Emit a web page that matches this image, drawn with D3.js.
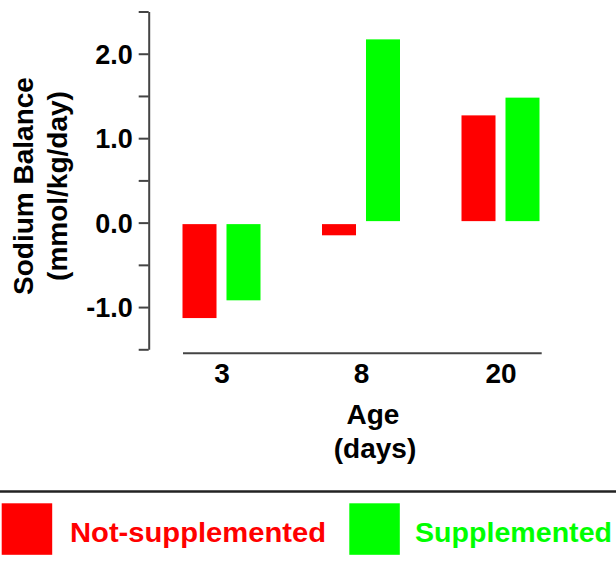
<!DOCTYPE html>
<html>
<head>
<meta charset="utf-8">
<script src="https://cdn.jsdelivr.net/npm/d3@7"></script>
<style>
  html, body { margin: 0; padding: 0; background: #fff; }
  svg { display: block; }
  text { font-family: "Liberation Sans", Arial, Helvetica, sans-serif; font-weight: bold; }
</style>
</head>
<body>
<svg id="chart" width="616" height="565"></svg>
<script>
// ---- data ----
const ages = ["3", "8", "20"];
const seriesNames = ["Not-supplemented", "Supplemented"];
const notSupplemented = [-1.13, -0.15, 1.27];
const supplemented = [-0.92, 2.17, 1.48];
const seriesColors = ["#ff0000", "#00ff00"];
const yTickValues = [-1.5, -1.0, -0.5, 0.0, 0.5, 1.0, 1.5, 2.0, 2.5];
const yTickLabels = [-1.0, 0.0, 1.0, 2.0];

const svg = d3.select("#chart");
const axisColor = "#444";

const y = d3.scaleLinear().domain([-1.5, 2.5]).range([349.3, 11.5]);
const x = d3.scalePoint().domain(ages).range([221.5, 500.5]);
const xs = d3.scaleBand().domain(seriesNames).range([-39, 39]).paddingInner(0.227);

const rows = ages.map((a, i) => ({ age: a, values: [notSupplemented[i], supplemented[i]] }));

// bars
const g = svg.append("g");
rows.forEach(r => {
  r.values.forEach((v, j) => {
    const x0 = x(r.age) + xs(seriesNames[j]);
    const y0 = v >= 0 ? y(v) : y(0) + 1.5;
    const y1 = v >= 0 ? y(0) - 1.5 : y(v);
    g.append("rect")
      .attr("x", x0)
      .attr("y", y0)
      .attr("width", xs.bandwidth())
      .attr("height", Math.max(0, y1 - y0))
      .attr("fill", seriesColors[j]);
  });
});

// y axis
const fmt = d3.format(".1f");
const yAxis = d3.axisLeft(y)
  .tickValues(yTickValues)
  .tickSize(10)
  .tickSizeOuter(0)
  .tickFormat(d => yTickLabels.some(t => Math.abs(t - d) < 1e-9) ? fmt(d).replace("\u2212", "-") : "");
const ya = svg.append("g").attr("transform", "translate(148.7,0)").call(yAxis);
ya.select(".domain").attr("stroke", axisColor).attr("stroke-width", 2);
ya.selectAll(".tick line").attr("stroke", axisColor).attr("stroke-width", 2);
ya.selectAll(".tick text")
  .attr("fill", "#000")
  .attr("font-size", 27)
  .attr("x", -16)
  .attr("dy", "0.36em");

// x axis
const xAxis = d3.axisBottom(x).tickSize(0).tickSizeOuter(0);
const xa = svg.append("g").attr("transform", "translate(0,353.3)").call(xAxis);
xa.select(".domain").remove();
xa.append("line")
  .attr("x1", 183).attr("x2", 541.7)
  .attr("y1", 0).attr("y2", 0)
  .attr("stroke", axisColor).attr("stroke-width", 2);
xa.selectAll(".tick text")
  .attr("fill", "#000")
  .attr("font-size", 28)
  .attr("y", 0)
  .attr("dy", 30);

// x title
svg.append("text").attr("x", 373).attr("y", 423.5).attr("text-anchor", "middle")
  .attr("font-size", 28).text("Age");
svg.append("text").attr("x", 375).attr("y", 458).attr("text-anchor", "middle")
  .attr("font-size", 28).text("(days)");

// y title
const yt = svg.append("g").attr("transform", "translate(0,186) rotate(-90)");
yt.append("text").attr("x", 0).attr("y", 33).attr("text-anchor", "middle")
  .attr("font-size", 28).text("Sodium Balance");
yt.append("text").attr("x", 0).attr("y", 66.5).attr("text-anchor", "middle")
  .attr("font-size", 28).text("(mmol/kg/day)");

// legend
svg.append("line").attr("x1", 0).attr("x2", 616).attr("y1", 491.5).attr("y2", 491.5)
  .attr("stroke", "#222").attr("stroke-width", 2.5);
const legendX = [1.7, 349.3];
const legendTextX = [70, 415];
const legendTextW = [256, 197];
seriesNames.forEach((name, j) => {
  svg.append("rect").attr("x", legendX[j]).attr("y", 503.3)
    .attr("width", 50.5).attr("height", 51.5).attr("fill", seriesColors[j]);
  svg.append("text").attr("x", legendTextX[j]).attr("y", 542)
    .attr("font-size", 28.5).attr("fill", seriesColors[j])
    .attr("textLength", legendTextW[j]).attr("lengthAdjust", "spacingAndGlyphs")
    .text(name);
});
</script>
</body>
</html>
